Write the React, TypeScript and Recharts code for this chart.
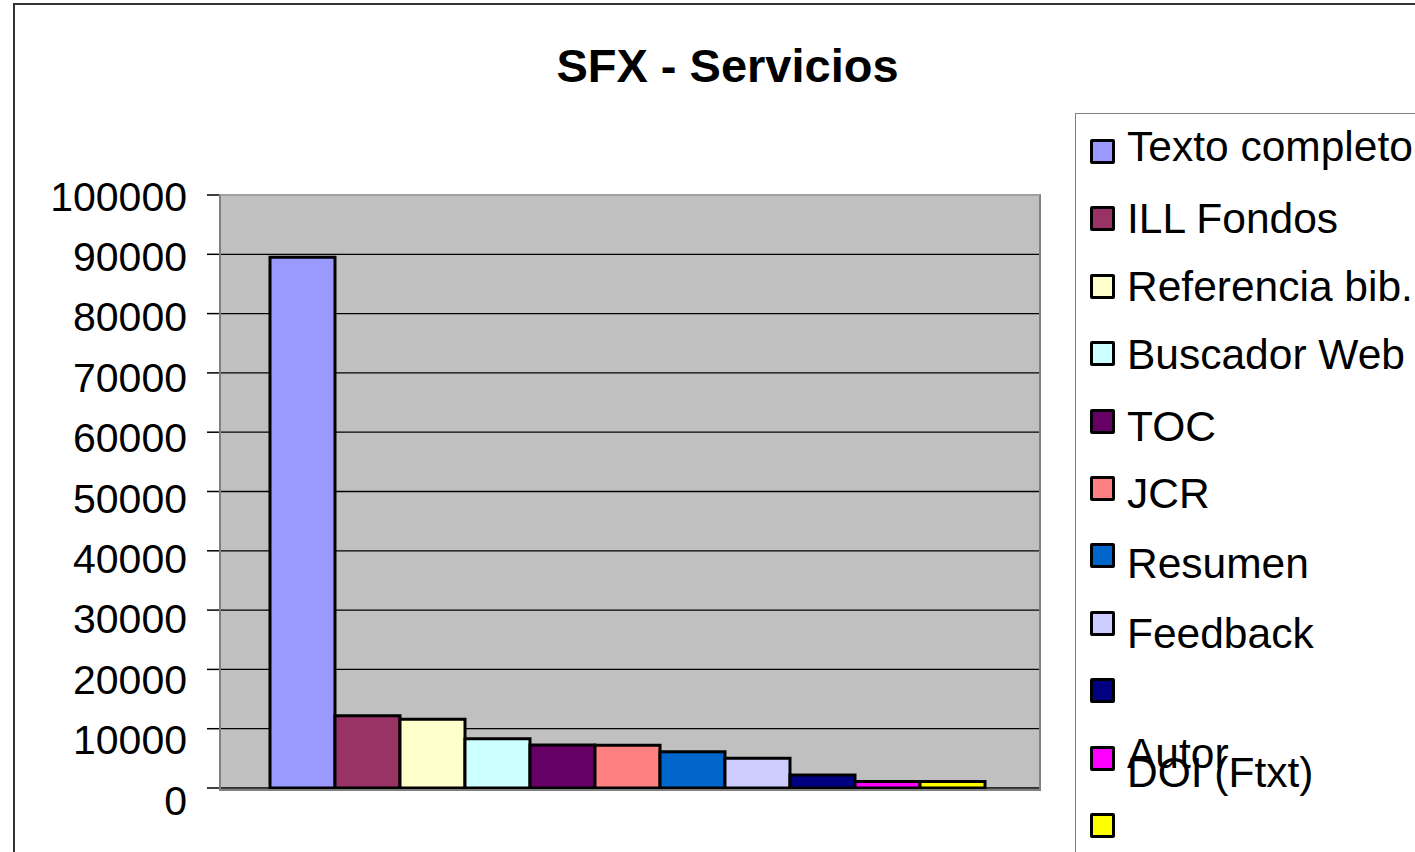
import React from 'react';
import { BarChart, Bar, XAxis, YAxis, CartesianGrid, Legend } from 'recharts';

const CATEGORIES = ['SFX'];
const SERIES_NAMES = [
  'Texto completo',
  'ILL Fondos',
  'Referencia bib.',
  'Buscador Web',
  'TOC',
  'JCR',
  'Resumen',
  'Feedback',
  '',
  'Autor',
  'DOI (Ftxt)',
];
const SERIES_VALUES = [89500, 12200, 11600, 8300, 7250, 7200, 6100, 5000, 2200, 1100, 1100];
const SERIES_COLORS = [
  '#9999FF',
  '#993366',
  '#FFFFCC',
  '#CCFFFF',
  '#660066',
  '#FF8080',
  '#0066CC',
  '#CCCCFF',
  '#000080',
  '#FF00FF',
  '#FFFF00',
];
const Y_TICKS = [0, 10000, 20000, 30000, 40000, 50000, 60000, 70000, 80000, 90000, 100000];
const TITLE = 'SFX - Servicios';

// style only: vertical drift of legend label text relative to its swatch (px)
const LEGEND_LABEL_SHIFT = [-4, 1, 1, 2, 6, 6, 9, 11, 0, -4, -52];

const FONT = 'Arial, "Liberation Sans", Helvetica, sans-serif';

const data = CATEGORIES.map((c) => {
  const row: Record<string, any> = { category: c };
  SERIES_VALUES.forEach((v, i) => {
    row['s' + i] = v;
  });
  return row;
});

const YTick = (props: any) => {
  const { x, y, payload } = props;
  const v = payload.value as number;
  const drift = 1 + 11 * (1 - v / 100000);
  return (
    <text
      x={x}
      y={y}
      dy={drift + 14.6}
      textAnchor="end"
      fontFamily={FONT}
      fontSize={41}
      fill="#000"
    >
      {v}
    </text>
  );
};

const LegendContent = () => {
  const rowH = 67.4;
  return (
    <div
      style={{
        position: 'relative',
        width: 340,
        height: 745,
        boxSizing: 'border-box',
        borderLeft: '1px solid #808080',
        borderTop: '1px solid #808080',
        fontFamily: FONT,
      }}
    >
      {SERIES_NAMES.map((name, i) => {
        const cy = 150 - 113 + rowH * i;
        return (
          <div key={i}>
            <div
              style={{
                position: 'absolute',
                left: 14,
                top: cy - 12,
                width: 25,
                height: 25,
                boxSizing: 'border-box',
                border: '3px solid #000',
                borderRadius: 2,
                background: SERIES_COLORS[i],
              }}
            />
            <div
              style={{
                position: 'absolute',
                left: 51,
                top: cy - 25 + LEGEND_LABEL_SHIFT[i],
                height: 50,
                lineHeight: '50px',
                fontSize: 42.5,
                color: '#000',
                whiteSpace: 'nowrap',
              }}
            >
              {name}
            </div>
          </div>
        );
      })}
    </div>
  );
};

export default function App() {
  return (
    <div
      style={{
        position: 'absolute',
        left: 0,
        top: 0,
        width: 1415,
        height: 852,
        overflow: 'hidden',
        background: '#fff',
      }}
    >
      <div
        style={{
          position: 'absolute',
          left: 13,
          top: 3,
          width: 1500,
          height: 1000,
          border: '2px solid #333',
          boxSizing: 'border-box',
        }}
      />
      <div
        style={{
          position: 'absolute',
          left: 0,
          width: 1455,
          top: 42,
          textAlign: 'center',
          fontFamily: FONT,
          fontWeight: 'bold',
          fontSize: 47,
          lineHeight: 1,
          color: '#000',
        }}
      >
        {TITLE}
      </div>
      <div style={{ position: 'absolute', left: 0, top: 0 }}>
        <BarChart
          width={1415}
          height={852}
          data={data}
          margin={{ top: 195, right: 35, bottom: 64, left: 0 }}
          barCategoryGap={50}
          barGap={0}
        >
          <CartesianGrid
            vertical={false}
            fill="#C0C0C0"
            stroke="#000"
            strokeWidth={1.3}
            fillOpacity={1}
          />
          <XAxis dataKey="category" hide />
          <YAxis
            width={220}
            domain={[0, 100000]}
            ticks={Y_TICKS}
            interval={0}
            axisLine={false}
            tickLine={{ stroke: '#000', strokeWidth: 1.5 }}
            tickSize={13}
            tickMargin={20}
            tick={<YTick />}
          />
          <Legend
            layout="vertical"
            align="right"
            verticalAlign="top"
            content={<LegendContent />}
            wrapperStyle={{ position: 'absolute', left: 1075, top: 113, width: 340, height: 745 }}
          />
          {SERIES_NAMES.map((name, i) => (
            <Bar
              key={i}
              dataKey={'s' + i}
              name={name || ' '}
              fill={SERIES_COLORS[i]}
              stroke="#000"
              strokeWidth={3}
              isAnimationActive={false}
            />
          ))}
        </BarChart>
      </div>
      <div
        style={{
          position: 'absolute',
          left: 219,
          top: 194,
          width: 822,
          height: 597,
          borderLeft: '2.5px solid #808080',
          borderTop: '2px solid #A0A0A0',
          borderRight: '2.5px solid #808080',
          borderBottom: '2px solid #808080',
          boxSizing: 'border-box',
          pointerEvents: 'none',
        }}
      />
    </div>
  );
}
